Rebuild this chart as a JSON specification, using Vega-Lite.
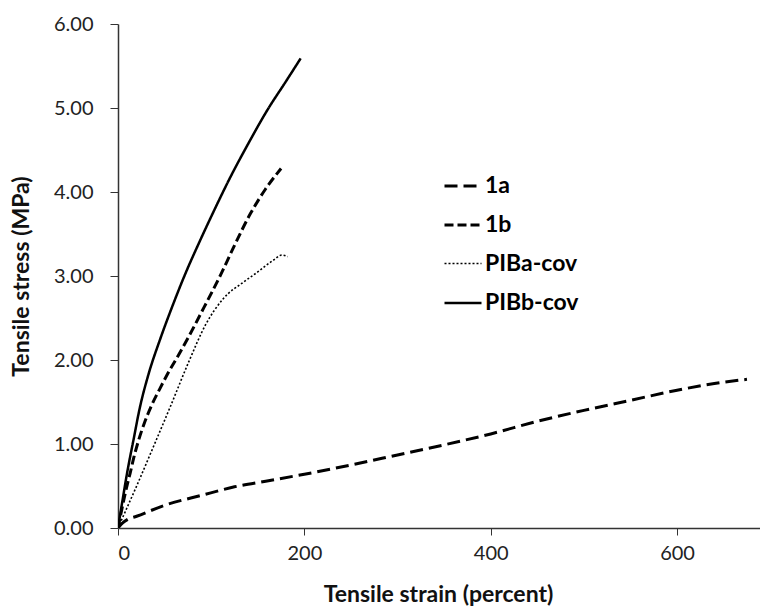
{
  "$schema": "https://vega.github.io/schema/vega-lite/v6.json",
  "width": 642,
  "height": 504,
  "autosize": {"type": "none"},
  "padding": {"left": 118, "top": 24, "right": 0, "bottom": 81},
  "background": "white",
  "config": {
    "view": {"stroke": null},
    "font": "Lato"
  },
  "data": {
    "values": [
      {"series": "1a", "strain": 0, "stress": 0},
      {"series": "1a", "strain": 5, "stress": 0.06},
      {"series": "1a", "strain": 10, "stress": 0.1},
      {"series": "1a", "strain": 20, "stress": 0.14},
      {"series": "1a", "strain": 50, "stress": 0.27},
      {"series": "1a", "strain": 90, "stress": 0.39},
      {"series": "1a", "strain": 125, "stress": 0.49},
      {"series": "1a", "strain": 160, "stress": 0.56},
      {"series": "1a", "strain": 200, "stress": 0.64},
      {"series": "1a", "strain": 250, "stress": 0.75},
      {"series": "1a", "strain": 300, "stress": 0.87},
      {"series": "1a", "strain": 350, "stress": 0.99},
      {"series": "1a", "strain": 400, "stress": 1.12},
      {"series": "1a", "strain": 450, "stress": 1.27},
      {"series": "1a", "strain": 500, "stress": 1.4},
      {"series": "1a", "strain": 550, "stress": 1.52},
      {"series": "1a", "strain": 600, "stress": 1.64},
      {"series": "1a", "strain": 640, "stress": 1.72},
      {"series": "1a", "strain": 675, "stress": 1.77},
      {"series": "1b", "strain": 0, "stress": 0},
      {"series": "1b", "strain": 5, "stress": 0.27},
      {"series": "1b", "strain": 10, "stress": 0.52},
      {"series": "1b", "strain": 13, "stress": 0.65},
      {"series": "1b", "strain": 17, "stress": 0.84},
      {"series": "1b", "strain": 22, "stress": 1.04},
      {"series": "1b", "strain": 29, "stress": 1.27},
      {"series": "1b", "strain": 36.5, "stress": 1.47},
      {"series": "1b", "strain": 45, "stress": 1.66},
      {"series": "1b", "strain": 53, "stress": 1.83},
      {"series": "1b", "strain": 65, "stress": 2.06},
      {"series": "1b", "strain": 76, "stress": 2.28},
      {"series": "1b", "strain": 92, "stress": 2.62},
      {"series": "1b", "strain": 110, "stress": 3.01},
      {"series": "1b", "strain": 124, "stress": 3.34},
      {"series": "1b", "strain": 142, "stress": 3.74},
      {"series": "1b", "strain": 158, "stress": 4.03},
      {"series": "1b", "strain": 175, "stress": 4.28},
      {"series": "PIBa-cov", "strain": 0, "stress": 0},
      {"series": "PIBa-cov", "strain": 8, "stress": 0.2},
      {"series": "PIBa-cov", "strain": 20, "stress": 0.5},
      {"series": "PIBa-cov", "strain": 40, "stress": 1.02},
      {"series": "PIBa-cov", "strain": 56, "stress": 1.44},
      {"series": "PIBa-cov", "strain": 76, "stress": 1.98},
      {"series": "PIBa-cov", "strain": 94, "stress": 2.42},
      {"series": "PIBa-cov", "strain": 113, "stress": 2.73},
      {"series": "PIBa-cov", "strain": 135, "stress": 2.93},
      {"series": "PIBa-cov", "strain": 149, "stress": 3.04},
      {"series": "PIBa-cov", "strain": 167, "stress": 3.19},
      {"series": "PIBa-cov", "strain": 176, "stress": 3.25},
      {"series": "PIBa-cov", "strain": 182, "stress": 3.23},
      {"series": "PIBb-cov", "strain": 0, "stress": 0},
      {"series": "PIBb-cov", "strain": 5, "stress": 0.34},
      {"series": "PIBb-cov", "strain": 10, "stress": 0.67},
      {"series": "PIBb-cov", "strain": 17, "stress": 1.07},
      {"series": "PIBb-cov", "strain": 23, "stress": 1.41},
      {"series": "PIBb-cov", "strain": 33, "stress": 1.84},
      {"series": "PIBb-cov", "strain": 45, "stress": 2.24},
      {"series": "PIBb-cov", "strain": 58, "stress": 2.63},
      {"series": "PIBb-cov", "strain": 72, "stress": 3.02},
      {"series": "PIBb-cov", "strain": 88, "stress": 3.42},
      {"series": "PIBb-cov", "strain": 104, "stress": 3.8},
      {"series": "PIBb-cov", "strain": 118, "stress": 4.12},
      {"series": "PIBb-cov", "strain": 140, "stress": 4.58},
      {"series": "PIBb-cov", "strain": 160, "stress": 4.97},
      {"series": "PIBb-cov", "strain": 181, "stress": 5.33},
      {"series": "PIBb-cov", "strain": 196, "stress": 5.59}
    ]
  },
  "mark": {"type": "line", "color": "black", "interpolate": "monotone", "clip": true},
  "encoding": {
    "x": {
      "field": "strain", "type": "quantitative",
      "scale": {"domain": [0, 689], "nice": false},
      "axis": {
        "title": "Tensile strain (percent)",
        "values": [0, 200, 400, 600],
        "grid": false,
        "domainColor": "#333", "tickColor": "#333", "domainWidth": 1.5,
        "tickSize": 7, "labelPadding": 8,
        "labelFont": "Lato", "labelFontSize": 20, "labelColor": "#222",
        "titleFont": "Lato", "titleFontSize": 23, "titleFontWeight": "bold", "titleColor": "#111",
        "titleBaseline": "middle", "titleY": 66, "titleX": 320
      }
    },
    "y": {
      "field": "stress", "type": "quantitative",
      "scale": {"domain": [0, 6], "nice": false},
      "axis": {
        "title": "Tensile stress (MPa)",
        "values": [0, 1, 2, 3, 4, 5, 6],
        "format": ".2f",
        "grid": false,
        "domainColor": "#333", "tickColor": "#333", "domainWidth": 1.5,
        "tickSize": 8, "labelPadding": 17,
        "labelFont": "Lato", "labelFontSize": 20, "labelColor": "#222",
        "titleFont": "Lato", "titleFontSize": 23, "titleFontWeight": "bold", "titleColor": "#111",
        "titleBaseline": "middle", "titleX": -97, "titleY": 252, "titleAngle": -90
      }
    },
    "detail": {"field": "series", "type": "nominal"},
    "strokeDash": {
      "field": "series", "type": "nominal",
      "scale": {
        "domain": ["1a", "1b", "PIBa-cov", "PIBb-cov"],
        "range": [[13, 6], [9, 4], [2, 2], [1, 0]]
      },
      "legend": {
        "title": null,
        "orient": "none",
        "legendX": 325,
        "legendY": 142,
        "padding": 0,
        "symbolType": "stroke",
        "symbolSize": 1369,
        "symbolStrokeColor": "black",
        "symbolStrokeWidth": 2.5,
        "labelFont": "Lato",
        "labelFontSize": 23,
        "labelFontWeight": "bold",
        "labelColor": "black",
        "labelOffset": 2,
        "rowPadding": 7
      }
    },
    "strokeWidth": {
      "field": "series", "type": "nominal",
      "scale": {
        "type": "ordinal",
        "domain": ["1a", "1b", "PIBa-cov", "PIBb-cov"],
        "range": [3, 3, 1.6, 2.5]
      },
      "legend": null
    }
  }
}
